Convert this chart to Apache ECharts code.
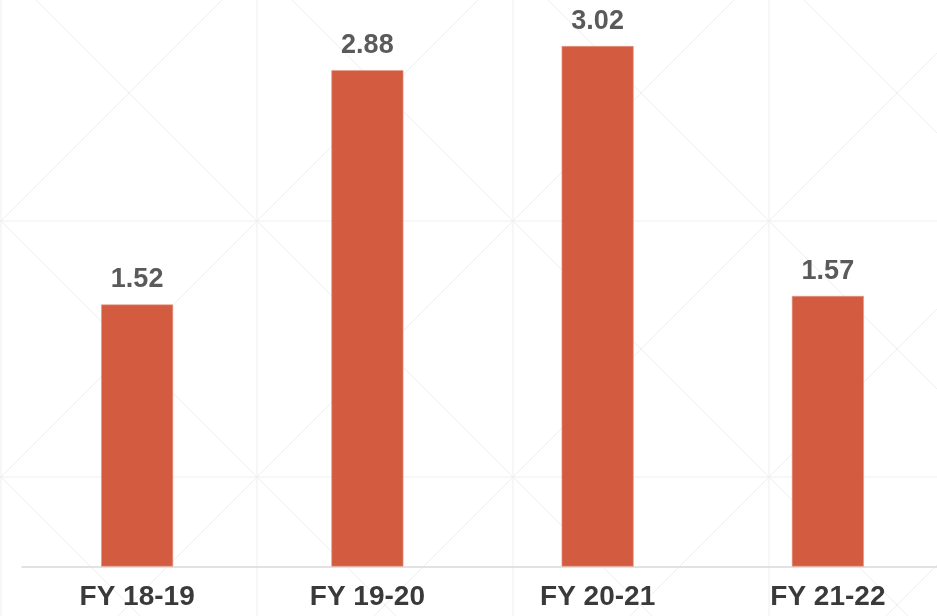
<!DOCTYPE html>
<html>
<head>
<meta charset="utf-8">
<script src="https://cdn.jsdelivr.net/npm/echarts@6/dist/echarts.min.js"></script>
<style>html,body{margin:0;padding:0;background:#fff;overflow:hidden;width:937px;height:616px;}#c{width:943px;height:616px;}</style>
</head>
<body>
<div id="c"></div>
<script>
var categories = ['FY 18-19', 'FY 19-20', 'FY 20-21', 'FY 21-22'];
var values = [1.52, 2.88, 3.02, 1.57];

var chart = echarts.init(document.getElementById('c'));

// faint decorative background pattern (squares with diagonals)
var deco = [];
var step = 256, ox = 1, oy = -35;
var lc = '#efefef';
for (var k = 0; k < 5; k++) {
  deco.push({type:'line', silent:true, z:-10, shape:{x1:ox + k*step, y1:0, x2:ox + k*step, y2:616}, style:{stroke:lc, lineWidth:1}});
}
for (var k = 0; k < 4; k++) {
  var yy = oy + k*step;
  deco.push({type:'line', silent:true, z:-10, shape:{x1:0, y1:yy, x2:943, y2:yy}, style:{stroke:lc, lineWidth:1}});
}
for (var k = -4; k < 6; k++) {
  var c1 = 36 + k*step; // x - y = c1
  deco.push({type:'line', silent:true, z:-10, shape:{x1:c1, y1:0, x2:c1+700, y2:700}, style:{stroke:lc, lineWidth:1}});
  var c2 = 222 + k*step; // x + y = c2
  deco.push({type:'line', silent:true, z:-10, shape:{x1:c2, y1:0, x2:c2-700, y2:700}, style:{stroke:lc, lineWidth:1}});
}

chart.setOption({
  backgroundColor: '#ffffff',
  animation: false,
  graphic: deco,
  grid: {left: 22, right: 0, top: 15, bottom: 49.5, containLabel: false},
  xAxis: {
    type: 'category',
    data: categories,
    axisLine: {show: true, lineStyle: {color: '#d9d9d9', width: 1.5}},
    axisTick: {show: false},
    axisLabel: {
      margin: 17,
      color: '#3a3a3a',
      fontSize: 28,
      fontWeight: 'bold',
      fontFamily: 'Liberation Sans, Arial, sans-serif'
    }
  },
  yAxis: {
    type: 'value',
    min: 0,
    max: 3.2,
    show: false,
    splitLine: {show: false}
  },
  series: [{
    type: 'bar',
    data: values,
    barWidth: 72,
    itemStyle: {color: '#d35b3f', borderColor: '#e59a88', borderWidth: 0.6},
    label: {
      show: true,
      position: 'top',
      distance: 11,
      color: '#5a5a5a',
      fontSize: 27,
      fontWeight: 'bold',
      fontFamily: 'Liberation Sans, Arial, sans-serif',
      formatter: function (p) { return p.value.toFixed(2); }
    }
  }]
});
</script>
</body>
</html>
